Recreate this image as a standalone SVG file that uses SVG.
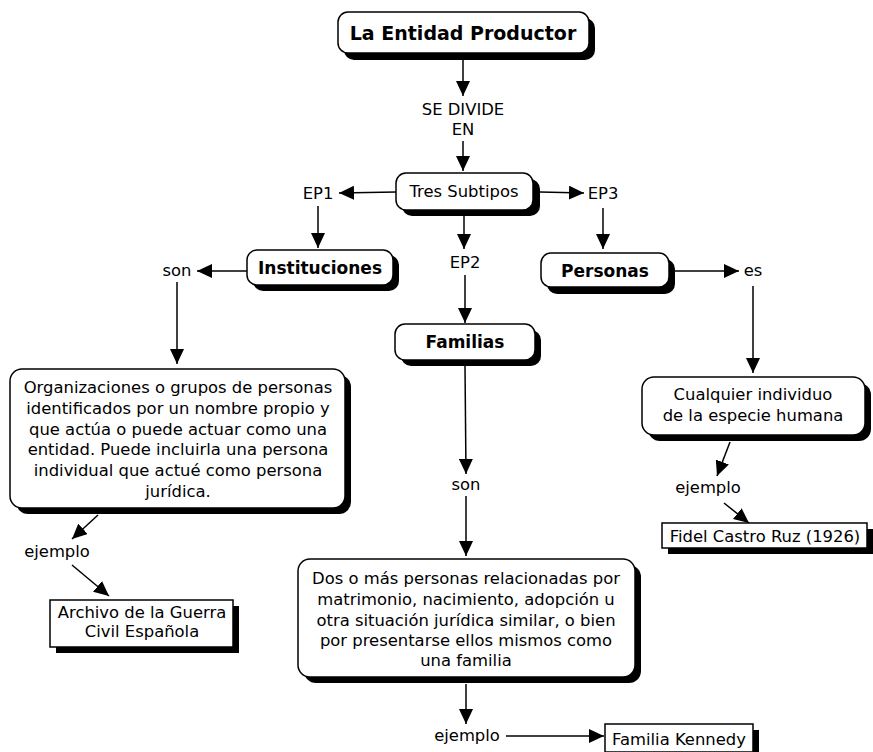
<svg xmlns="http://www.w3.org/2000/svg" width="873" height="752" viewBox="0 0 873 752">
<defs>
<style>
.box{fill:#fff;stroke:#000;stroke-width:1.5}
.sh{fill:#000}
.t{font-family:"DejaVu Sans","Liberation Sans",sans-serif;font-size:16.4px;fill:#000;text-anchor:middle}
.b{font-weight:bold;font-size:17px}
.c{stroke:#000;stroke-width:1.5;fill:none;marker-end:url(#ah)}
</style>
<marker id="ah" markerUnits="userSpaceOnUse" markerWidth="16" markerHeight="14" refX="15" refY="7" orient="auto">
<path d="M0,0 L15,7 L0,14 Z" fill="#000"/>
</marker>
</defs>
<rect width="873" height="752" fill="#fff"/>
<g id="connectors">
<line class="c" x1="463" y1="60" x2="463" y2="96"/>
<line class="c" x1="463" y1="141" x2="463" y2="171"/>
<line class="c" x1="396" y1="192" x2="339" y2="193"/>
<line class="c" x1="540" y1="192" x2="584" y2="193"/>
<line class="c" x1="318" y1="206" x2="318" y2="248"/>
<line class="c" x1="464" y1="216" x2="464" y2="249"/>
<line class="c" x1="603" y1="208" x2="603" y2="249"/>
<line class="c" x1="247" y1="271" x2="197" y2="271"/>
<line class="c" x1="675" y1="271" x2="739" y2="271"/>
<line class="c" x1="177" y1="282" x2="177" y2="364"/>
<line class="c" x1="465" y1="275" x2="465" y2="323"/>
<line class="c" x1="753" y1="286" x2="753" y2="373"/>
<line class="c" x1="465" y1="366" x2="466" y2="474"/>
<line class="c" x1="466" y1="496" x2="466" y2="556"/>
<line class="c" x1="730" y1="442" x2="717" y2="476"/>
<line class="c" x1="724" y1="503" x2="749" y2="523"/>
<line class="c" x1="98" y1="515" x2="72" y2="539"/>
<line class="c" x1="72" y1="565" x2="109" y2="596"/>
<line class="c" x1="466" y1="684" x2="466" y2="724"/>
<line class="c" x1="506" y1="736" x2="604" y2="736"/>
</g>
<g id="root">
<rect class="sh" x="344" y="18" width="251" height="42" rx="10"/>
<rect class="box" x="338" y="12" width="251" height="41" rx="10"/>
<text class="t b" x="463" y="40" style="font-size:19px">La Entidad Productor</text>
</g>
<g id="se-divide">
<text class="t" x="463" y="115">SE DIVIDE</text>
<text class="t" x="463" y="135">EN</text>
</g>
<g id="tres">
<rect class="sh" x="402" y="179" width="138" height="37" rx="10"/>
<rect class="box" x="396" y="173" width="137" height="37" rx="10"/>
<text class="t" x="464" y="197">Tres Subtipos</text>
</g>
<g id="ep1"><text class="t" x="318" y="199">EP1</text></g>
<g id="ep3"><text class="t" x="603" y="199">EP3</text></g>
<g id="ep2"><text class="t" x="465" y="268">EP2</text></g>
<g id="instituciones">
<rect class="sh" x="253" y="255" width="146" height="36" rx="10"/>
<rect class="box" x="247" y="250" width="146" height="35" rx="10"/>
<text class="t b" x="320" y="274">Instituciones</text>
</g>
<g id="son1"><text class="t" x="177" y="276">son</text></g>
<g id="personas">
<rect class="sh" x="547" y="259" width="128" height="35" rx="10"/>
<rect class="box" x="541" y="253" width="128" height="34" rx="10"/>
<text class="t b" x="605" y="277">Personas</text>
</g>
<g id="es"><text class="t" x="753" y="276">es</text></g>
<g id="familias">
<rect class="sh" x="401" y="330" width="140" height="36" rx="10"/>
<rect class="box" x="395" y="324" width="140" height="36" rx="10"/>
<text class="t b" x="465" y="348">Familias</text>
</g>
<g id="son2"><text class="t" x="466" y="490">son</text></g>
<g id="organizaciones">
<rect class="sh" x="16" y="375" width="335" height="139" rx="12"/>
<rect class="box" x="10" y="369" width="335" height="139" rx="12"/>
<text class="t" x="178" y="393">Organizaciones o grupos de personas</text>
<text class="t" x="178" y="414">identificados por un nombre propio y</text>
<text class="t" x="178" y="435">que actúa o puede actuar como una</text>
<text class="t" x="178" y="455">entidad. Puede incluirla una persona</text>
<text class="t" x="178" y="476">individual que actué como persona</text>
<text class="t" x="178" y="497">jurídica.</text>
</g>
<g id="ejemplo1"><text class="t" x="57" y="557">ejemplo</text></g>
<g id="archivo">
<rect class="sh" x="56" y="606" width="183" height="47"/>
<rect class="box" x="50" y="600" width="183" height="47"/>
<text class="t" x="142" y="618">Archivo de la Guerra</text>
<text class="t" x="142" y="637">Civil Española</text>
</g>
<g id="cualquier">
<rect class="sh" x="648" y="383" width="223" height="58" rx="12"/>
<rect class="box" x="642" y="377" width="223" height="58" rx="12"/>
<text class="t" x="753" y="400">Cualquier individuo</text>
<text class="t" x="753" y="421">de la especie humana</text>
</g>
<g id="ejemplo3"><text class="t" x="708" y="493">ejemplo</text></g>
<g id="fidel">
<rect class="sh" x="668" y="529" width="205" height="25"/>
<rect class="box" x="662" y="523" width="205" height="25"/>
<text class="t" x="765" y="542">Fidel Castro Ruz (1926)</text>
</g>
<g id="dos">
<rect class="sh" x="304" y="565" width="337" height="118" rx="12"/>
<rect class="box" x="298" y="559" width="337" height="118" rx="12"/>
<text class="t" x="466" y="584">Dos o más personas relacionadas por</text>
<text class="t" x="466" y="605">matrimonio, nacimiento, adopción u</text>
<text class="t" x="466" y="626">otra situación jurídica similar, o bien</text>
<text class="t" x="466" y="646">por presentarse ellos mismos como</text>
<text class="t" x="466" y="666">una familia</text>
</g>
<g id="ejemplo2"><text class="t" x="467" y="741">ejemplo</text></g>
<g id="kennedy">
<rect class="sh" x="611" y="730" width="148" height="28"/>
<rect class="box" x="605" y="724" width="148" height="28"/>
<text class="t" x="679" y="745">Familia Kennedy</text>
</g>
</svg>
